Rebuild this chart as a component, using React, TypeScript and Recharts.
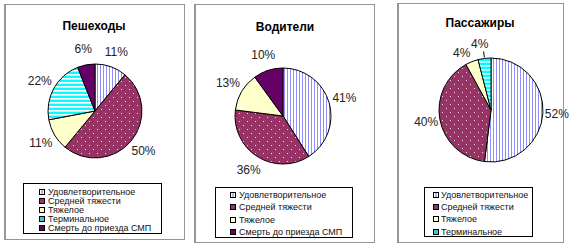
import React from 'react';
import { PieChart, Pie, Cell } from 'recharts';

// categories
const categories = [
  'Удовлетворительное',
  'Средней тяжести',
  'Тяжелое',
  'Терминальное',
  'Смерть до приезда СМП',
];

// series values (%)
const pedestrianNames = ['Удовлетворительное', 'Средней тяжести', 'Тяжелое', 'Терминальное', 'Смерть до приезда СМП'];
const pedestrianValues = [11, 50, 11, 22, 6];

const driverNames = ['Удовлетворительное', 'Средней тяжести', 'Тяжелое', 'Смерть до приезда СМП'];
const driverValues = [41, 36, 13, 10];

const passengerNames = ['Удовлетворительное', 'Средней тяжести', 'Тяжелое', 'Терминальное'];
const passengerValues = [52, 40, 4, 4];

const titles = ['Пешеходы', 'Водители', 'Пассажиры'];

const FONT = '"Liberation Sans", Arial, sans-serif';

// pattern per category
const patternKey: Record<string, string> = {
  'Удовлетворительное': 'stripesV',
  'Средней тяжести': 'dots',
  'Тяжелое': 'yellow',
  'Терминальное': 'stripesH',
  'Смерть до приезда СМП': 'purple',
};

const iconColors: Record<string, string> = {
  'Удовлетворительное': '#ffffff',
  'Средней тяжести': '#993366',
  'Тяжелое': '#ffffcc',
  'Терминальное': '#33cccc',
  'Смерть до приезда СМП': '#660066',
};

const layouts = [
  {
    left: 4, top: 4, width: 181, height: 236,
    titleX: 94, titleY: 26, cx: 90, cy: 106, r: 47, labelOffset: 16,
    legend: { left: 23, top: 183, width: 139, height: 51, first: 8, step: 9, iconX: 15, textX: 24 },
  },
  {
    left: 194, top: 4, width: 181, height: 239,
    titleX: 285, titleY: 27, cx: 278, cy: 111, r: 48, labelOffset: 16,
    legend: { left: 215, top: 187, width: 138, height: 51, first: 7, step: 12.3, iconX: 14, textX: 23 },
  },
  {
    left: 397, top: 3, width: 167, height: 240,
    titleX: 480, titleY: 23, cx: 486, cy: 105, r: 52, labelOffset: 14,
    legend: { left: 424, top: 187, width: 109, height: 50, first: 7, step: 12.2, iconX: 8, textX: 16 },
  },
];

const RADIAN = Math.PI / 180;

const Patterns = ({ id }: { id: string }) => (
  <defs>
    <pattern id={`stripesV-${id}`} width={3} height={3} patternUnits="userSpaceOnUse">
      <rect width={3} height={3} fill="#ffffff" />
      <rect x={0} width={1} height={3} fill="#8f8fff" />
    </pattern>
    <pattern id={`dots-${id}`} width={8} height={8} patternUnits="userSpaceOnUse">
      <rect width={8} height={8} fill="#993366" />
      <rect x={1} y={1} width={1} height={1} fill="#f2d9e6" />
      <rect x={5} y={5} width={1} height={1} fill="#f2d9e6" />
    </pattern>
    <pattern id={`stripesH-${id}`} width={4} height={4} patternUnits="userSpaceOnUse">
      <rect width={4} height={4} fill="#00ffff" />
      <rect y={2} width={4} height={1.6} fill="#ffffff" />
    </pattern>
    <pattern id={`yellow-${id}`} width={4} height={4} patternUnits="userSpaceOnUse">
      <rect width={4} height={4} fill="#ffffcc" />
    </pattern>
    <pattern id={`purple-${id}`} width={4} height={4} patternUnits="userSpaceOnUse">
      <rect width={4} height={4} fill="#660066" />
    </pattern>
  </defs>
);

const makeLabel = (offset: number, leaderIndex: number) => (props: any) => {
  const { cx, cy, midAngle, outerRadius, value, index } = props;
  const rr = outerRadius + offset;
  let x = cx + rr * Math.cos(-midAngle * RADIAN);
  let y = cy + rr * Math.sin(-midAngle * RADIAN);
  let line = null;
  if (leaderIndex >= 0 && index === leaderIndex - 1) {
    x -= 5;
    y += 4;
  }
  if (index === leaderIndex) {
    const x1 = cx + (outerRadius + 1) * Math.cos(-midAngle * RADIAN);
    const y1 = cy + (outerRadius + 1) * Math.sin(-midAngle * RADIAN);
    const x2 = cx + (outerRadius + 7) * Math.cos(-midAngle * RADIAN);
    const y2 = cy + (outerRadius + 7) * Math.sin(-midAngle * RADIAN);
    line = <line x1={x1} y1={y1} x2={x2} y2={y2} stroke="#000" strokeWidth={1} />;
    x -= 3;
    y -= 1;
  }
  return (
    <g>
      {line}
      <text
        x={x}
        y={y}
        fill="#222"
        fontSize={12}
        fontFamily={FONT}
        textAnchor="middle"
        dominantBaseline="central"
      >
        {`${value}%`}
      </text>
    </g>
  );
};

const LegendIcon = ({ name }: { name: string }) => (
  <svg width={6} height={6} style={{ display: 'block' }}>
    <rect x={0.5} y={0.5} width={5} height={5} fill={iconColors[name]} stroke="#000" strokeWidth={1} />
    {name === 'Удовлетворительное' && <line x1={3} y1={1} x2={3} y2={5} stroke="#6666ff" strokeWidth={1} />}
  </svg>
);

const Panel = ({ idx, names, values }: { idx: number; names: string[]; values: number[] }) => {
  const L = layouts[idx];
  const data = names.map((name, i) => ({ name, value: values[i] }));
  const id = `p${idx}`;
  const leg = L.legend;
  return (
    <>
      <div
        style={{
          position: 'absolute',
          left: L.left,
          top: L.top,
          width: L.width,
          height: L.height,
          boxSizing: 'border-box',
          border: '1px solid #969696',
          borderLeftWidth: 2,
          background: '#fff',
        }}
      />
      <div
        style={{
          position: 'absolute',
          left: L.titleX - 60,
          width: 120,
          top: L.titleY - 8,
          height: 16,
          lineHeight: '16px',
          textAlign: 'center',
          fontFamily: FONT,
          fontWeight: 'bold',
          fontSize: 12,
          color: '#000',
        }}
      >
        {titles[idx]}
      </div>
      <div style={{ position: 'absolute', left: L.left, top: L.top }}>
        <PieChart width={L.width + 20} height={L.height}>
          <Patterns id={id} />
          <Pie
            data={data}
            dataKey="value"
            nameKey="name"
            cx={L.cx - L.left}
            cy={L.cy - L.top}
            outerRadius={L.r}
            startAngle={90}
            endAngle={-270}
            stroke="#000"
            strokeWidth={1}
            label={makeLabel(L.labelOffset, idx === 2 ? 3 : -1)}
            labelLine={false}
            isAnimationActive={false}
          >
            {data.map((d) => (
              <Cell key={d.name} fill={`url(#${patternKey[d.name]}-${id})`} />
            ))}
          </Pie>
        </PieChart>
      </div>
      <div
        style={{
          position: 'absolute',
          left: leg.left,
          top: leg.top,
          width: leg.width,
          height: leg.height,
          boxSizing: 'border-box',
          border: '1px solid #000',
          background: '#fff',
        }}
      >
        {names.map((name, i) => (
          <div
            key={name}
            style={{
              position: 'absolute',
              left: 0,
              top: leg.first + i * leg.step - 6,
              height: 12,
              width: '100%',
            }}
          >
            <div style={{ position: 'absolute', left: leg.iconX, top: 3 }}>
              <LegendIcon name={name} />
            </div>
            <div
              style={{
                position: 'absolute',
                left: leg.textX,
                top: 0,
                lineHeight: '12px',
                fontSize: 9,
                fontFamily: FONT,
                color: '#111',
                whiteSpace: 'nowrap',
              }}
            >
              {name}
            </div>
          </div>
        ))}
      </div>
    </>
  );
};

export default function App() {
  void categories;
  return (
    <div style={{ position: 'absolute', left: 0, top: 0, width: 570, height: 251, background: '#fff', overflow: 'hidden' }}>
      <Panel idx={0} names={pedestrianNames} values={pedestrianValues} />
      <Panel idx={1} names={driverNames} values={driverValues} />
      <Panel idx={2} names={passengerNames} values={passengerValues} />
    </div>
  );
}
